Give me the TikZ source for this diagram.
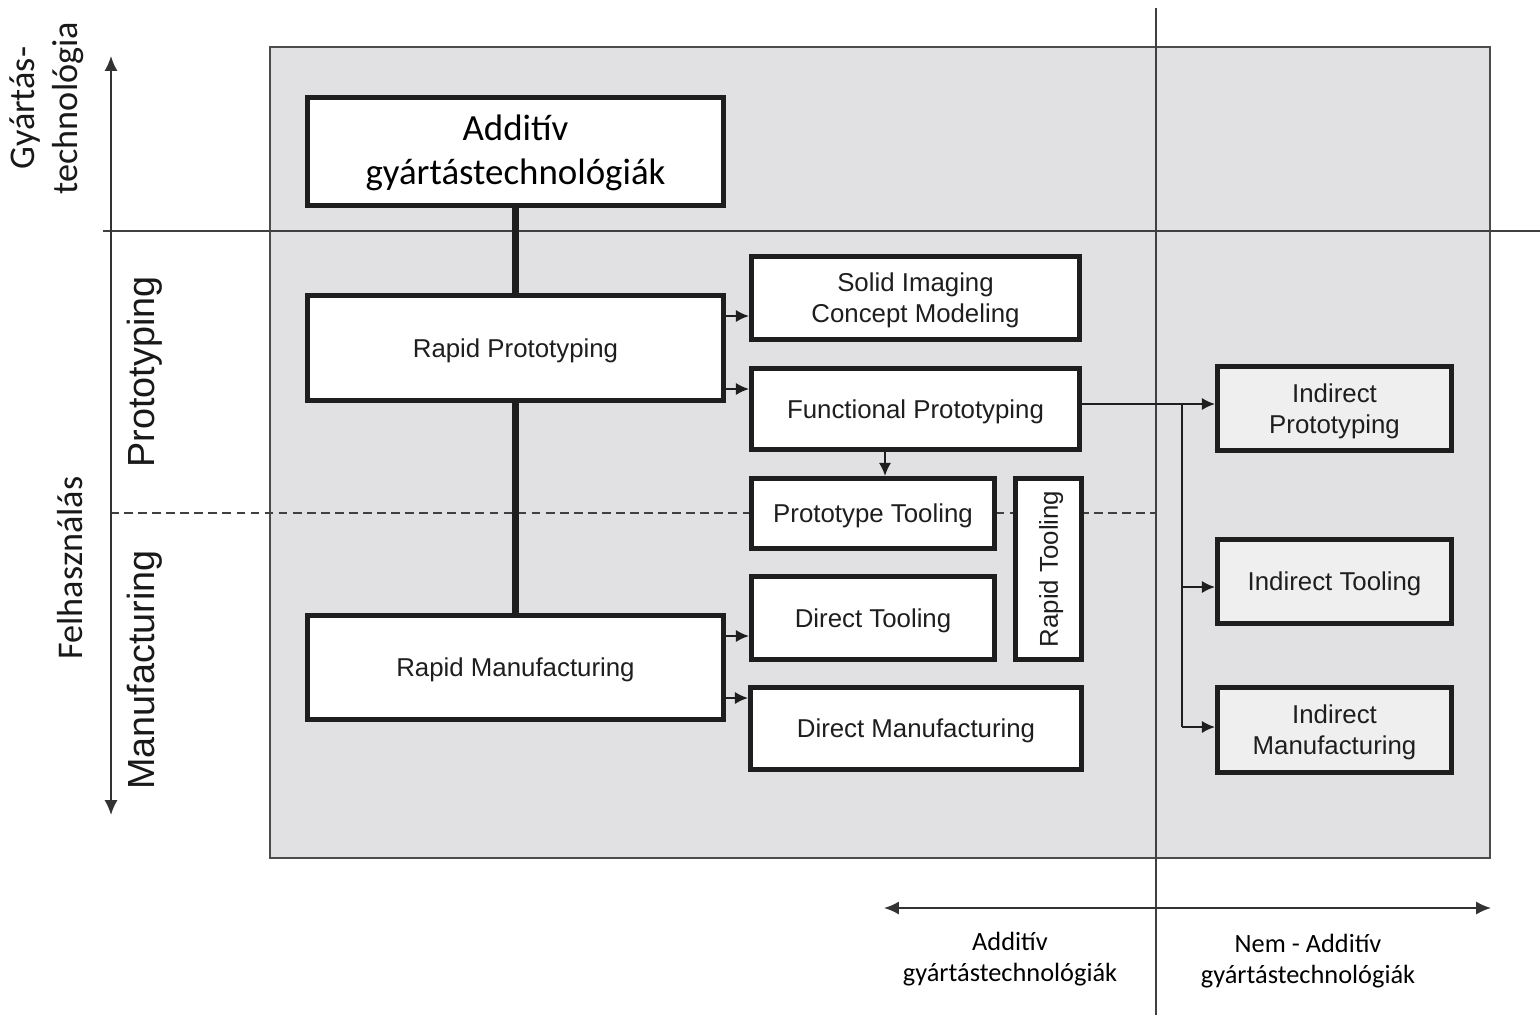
\documentclass[tikz,border=0pt]{standalone}
\usepackage{fontspec}
\setmainfont{Liberation Sans}
\newfontfamily\carl{Carlito}
\usetikzlibrary{arrows.meta}
\definecolor{bgc}{HTML}{E1E1E4}
\definecolor{ink}{HTML}{1E1E1E}
\definecolor{indfill}{HTML}{EFEFEF}
\tikzset{
  box/.style={draw=ink, line width=2.85pt, fill=white, align=center, inner sep=0pt,
    text=ink, text depth=-1.5pt, font=\fontsize{14.7}{17.6}\selectfont},
  indbox/.style={box, fill=indfill},
  thickcon/.style={draw=ink, line width=4.5pt},
  arr/.style={draw=ink, line width=1.1pt, -{Latex[length=7.5pt,width=7pt]}},
  thinln/.style={draw=ink, line width=1.1pt},
  gridln/.style={draw=black!75, line width=0.85pt},
  axisarr/.style={draw=black!80, line width=1.1pt, {Latex[length=8.5pt,width=7.5pt]}-{Latex[length=8.5pt,width=7.5pt]}},
  sidelbl/.style={rotate=90, align=center, text=black!90, font=\carl\fontsize{20.6}{24.4}\selectfont},
  enlbl/.style={rotate=90, text=black!90, font=\fontsize{21.5}{25}\selectfont},
  botlbl/.style={align=center, text=black, font=\carl\fontsize{15}{17.6}\selectfont}
}
\begin{document}
\begin{tikzpicture}[x=0.02cm, y=-0.02cm]
\useasboundingbox (0,0) rectangle (1540,1015);
% background panel
\fill[bgc] (270,47) rectangle (1490,858);
\draw[black!70, line width=0.85pt] (270,47) rectangle (1490,858);
% guide lines
\draw[gridln] (103,231) -- (1540,231);
\draw[gridln, dashed, dash pattern=on 5pt off 3pt] (110,513) -- (1156,513);
\draw[gridln] (1156,8) -- (1156,1015);
% axes
\draw[axisarr] (111,815) -- (111,56);
\draw[axisarr] (884,908) -- (1491,908);
% side labels
\node[sidelbl] (gy) at (47,108) {Gyártás-\\technológia};
\node[sidelbl] (fe) at (70,568) {Felhasználás};
\node[enlbl] (pr) at (145,372) {Prototyping};
\node[enlbl] (ma) at (145,670) {Manufacturing};
% bottom labels
\node[botlbl] (ba) at (1010,959) {Additív\\gyártástechnológiák};
\node[botlbl] (bn) at (1308,961) {Nem - Additív\\gyártástechnológiák};
% boxes
\node[box, minimum width=8.32cm, minimum height=2.16cm, text depth=2pt, font=\carl\fontsize{21}{25}\selectfont, text=black] (add) at (515.5,151.5) {Additív\\gyártástechnológiák};
\node[box, minimum width=8.32cm, minimum height=2.10cm] (rp) at (515.5,348) {Rapid Prototyping};
\node[box, minimum width=8.32cm, minimum height=2.08cm] (rm) at (515.5,667.5) {Rapid Manufacturing};
\node[box, minimum width=6.56cm, minimum height=1.66cm] (si) at (915.5,298) {Solid Imaging\\Concept Modeling};
\node[box, minimum width=6.56cm, minimum height=1.62cm] (fp) at (915.5,409) {Functional Prototyping};
\node[box, minimum width=4.86cm, minimum height=1.40cm] (pt) at (873,513.5) {Prototype Tooling};
\node[box, rotate=90, minimum width=3.62cm, minimum height=1.32cm] (rt) at (1048.5,569) {Rapid Tooling};
\node[box, minimum width=4.86cm, minimum height=1.66cm] (dt) at (873,618) {Direct Tooling};
\node[box, minimum width=6.62cm, minimum height=1.64cm] (dm) at (916,728.5) {Direct Manufacturing};
\node[indbox, minimum width=4.68cm, minimum height=1.68cm] (ip) at (1334.5,408.5) {Indirect\\Prototyping};
\node[indbox, minimum width=4.68cm, minimum height=1.68cm] (it) at (1334.5,581.5) {Indirect Tooling};
\node[indbox, minimum width=4.68cm, minimum height=1.70cm] (im) at (1334.5,730) {Indirect\\Manufacturing};
% thick connectors
\draw[thickcon] (add.south) -- (rp.north);
\draw[thickcon] (rp.south) -- (rm.north);
% arrows
\draw[arr] (rp.east |- 0,316) -- (si.west |- 0,316);
\draw[arr] (rp.east |- 0,389) -- (fp.west |- 0,389);
\draw[arr] (rm.east |- 0,636) -- (dt.west |- 0,636);
\draw[arr] (rm.east |- 0,698) -- (dm.west |- 0,698);
\draw[arr] (fp.south -| 885,0) -- (pt.north -| 885,0);
\coordinate (br) at (1182,404);
\coordinate (brend) at (1182,727);
\draw[arr] (fp.east |- br) -- (ip.west |- br);
\draw[thinln] (br) -- (brend);
\draw[arr] (br |- 0,587) -- (it.west |- 0,587);
\draw[arr] (brend) -- (im.west |- brend);
\end{tikzpicture}
\end{document}
